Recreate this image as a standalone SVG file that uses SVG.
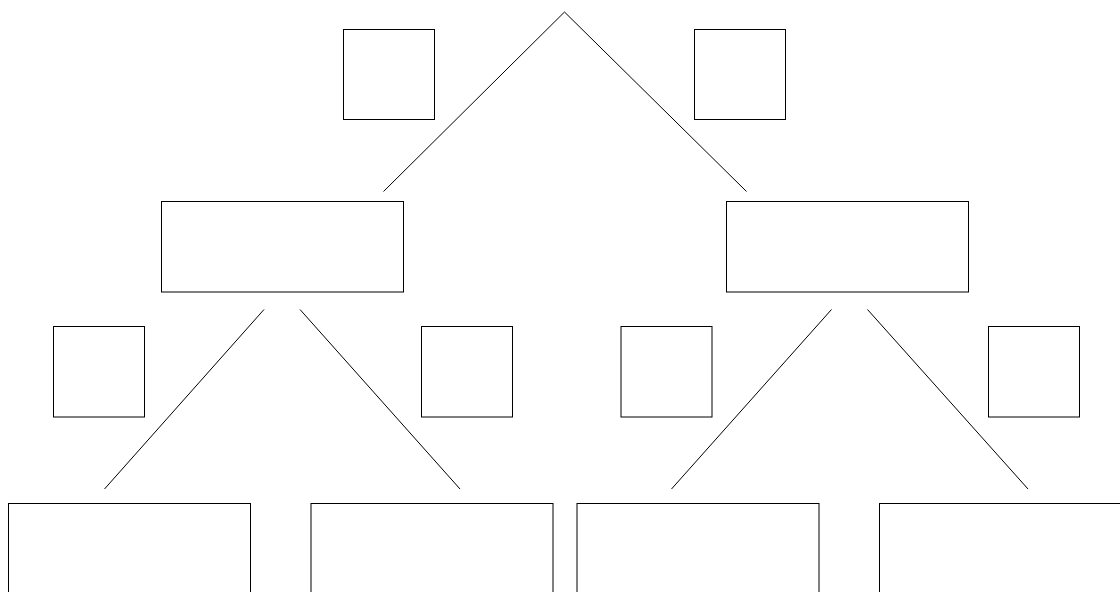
<svg xmlns="http://www.w3.org/2000/svg" width="1120" height="592" viewBox="0 0 1120 592">
<style>
.n{fill:#fff;stroke:#000;stroke-width:1}
.e{stroke:#000;stroke-width:1;fill:none}
</style>
<rect width="1120" height="592" fill="#fff"/>
<g id="connectors">
<line class="e" x1="564.5" y1="12" x2="383.5" y2="191.5"/>
<line class="e" x1="564.5" y1="12" x2="746.5" y2="191.5"/>
<line class="e" x1="264" y1="309.5" x2="104.5" y2="489"/>
<line class="e" x1="300" y1="309.5" x2="460" y2="489"/>
<line class="e" x1="831.5" y1="309.5" x2="671.5" y2="489"/>
<line class="e" x1="867.5" y1="309.5" x2="1028" y2="489"/>
</g>
<g id="s1"><rect class="n" x="343.5" y="29.5" width="91" height="90"/></g>
<g id="s2"><rect class="n" x="694.5" y="29.5" width="91" height="90"/></g>
<g id="m1"><rect class="n" x="161.5" y="201.5" width="242" height="90.5"/></g>
<g id="m2"><rect class="n" x="726.5" y="201.5" width="242" height="90.5"/></g>
<g id="s3"><rect class="n" x="53.5" y="326.5" width="91" height="90.5"/></g>
<g id="s4"><rect class="n" x="421.5" y="326.5" width="91" height="90.5"/></g>
<g id="s5"><rect class="n" x="621" y="326.5" width="91" height="90.5"/></g>
<g id="s6"><rect class="n" x="988.5" y="326.5" width="91" height="90.5"/></g>
<g id="b1"><rect class="n" x="8.5" y="503.5" width="242" height="120"/></g>
<g id="b2"><rect class="n" x="311" y="503.5" width="242" height="120"/></g>
<g id="b3"><rect class="n" x="577" y="503.5" width="242" height="120"/></g>
<g id="b4"><rect class="n" x="879.5" y="503.5" width="242" height="120"/></g>
</svg>
